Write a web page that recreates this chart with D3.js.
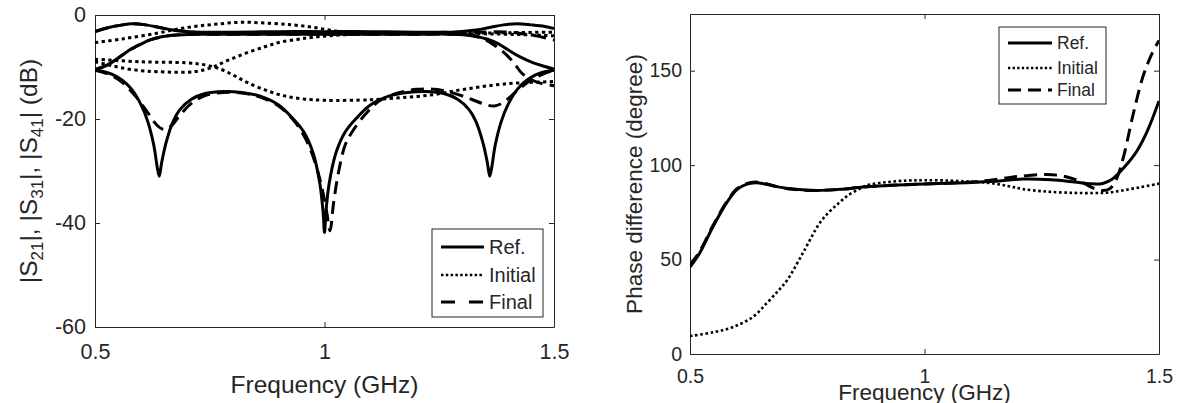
<!DOCTYPE html>
<html><head><meta charset="utf-8">
<script src="https://cdn.jsdelivr.net/npm/d3@7"></script>
<style>html,body{margin:0;padding:0;background:#fff;} svg{display:block;}</style>
</head><body>
<svg id="c" width="1185" height="403"></svg>
<script>
// ---------- DATA ----------
const freqTicks = [0.5, 1, 1.5];
const magTicks = [0, -20, -40, -60];
const phaseTicks = [0, 50, 100, 150];
const legendLabels = ["Ref.", "Initial", "Final"];

// Left panel: |S21|, |S31|, |S41| (dB) vs frequency (GHz)
const refS21 = [[0.5,-3.2],[0.53,-2.4],[0.56,-1.9],[0.58,-1.7],[0.61,-1.9],[0.64,-2.4],[0.67,-2.9],[0.72,-3.3],[0.8,-3.3],[0.9,-3.2],[1.0,-3.2],[1.1,-3.2],[1.2,-3.3],[1.28,-3.3],[1.33,-2.9],[1.36,-2.4],[1.39,-1.9],[1.42,-1.7],[1.45,-1.9],[1.48,-2.2],[1.5,-2.6]];
const refS31 = [[0.5,-10.5],[0.52,-9.9],[0.533,-9.3],[0.555,-8],[0.576,-6.7],[0.6,-5.6],[0.62,-4.8],[0.645,-4.2],[0.67,-3.9],[0.72,-3.7],[0.8,-3.7],[0.9,-3.7],[1.0,-3.7],[1.1,-3.7],[1.2,-3.7],[1.28,-3.7],[1.32,-4.0],[1.36,-4.8],[1.38,-5.6],[1.40,-6.7],[1.425,-8],[1.455,-9.2],[1.48,-9.9],[1.5,-10.4]];
const refS41 = [[0.5,-10.6],[0.52,-10.9],[0.54,-11.5],[0.56,-12.6],[0.58,-14.3],[0.6,-17.2],[0.615,-20.5],[0.628,-25],[0.636,-29.5],[0.64,-31],[0.645,-28.5],[0.655,-24.5],[0.67,-20.5],[0.685,-18.2],[0.71,-16.2],[0.74,-15.1],[0.78,-14.7],[0.82,-14.9],[0.86,-15.6],[0.9,-17.3],[0.93,-19.8],[0.955,-22.5],[0.975,-26.5],[0.99,-32.5],[0.997,-38],[1.0,-41.8],[1.003,-38],[1.01,-32.5],[1.025,-26.5],[1.045,-22.5],[1.07,-19.8],[1.1,-17.3],[1.14,-15.6],[1.18,-14.9],[1.22,-14.7],[1.26,-15.1],[1.29,-16.2],[1.315,-18.2],[1.33,-20.5],[1.345,-24.5],[1.355,-28.5],[1.36,-31],[1.364,-29.5],[1.372,-25],[1.385,-20.5],[1.4,-17.2],[1.42,-14.3],[1.44,-12.6],[1.46,-11.5],[1.48,-10.9],[1.5,-10.6]];

const iniS21 = [[0.5,-5.3],[0.56,-4.6],[0.635,-3.5],[0.7,-2.4],[0.76,-1.8],[0.82,-1.4],[0.88,-1.6],[0.93,-1.9],[0.97,-2.3],[1.01,-2.9],[1.05,-3.3],[1.15,-3.5],[1.3,-3.5],[1.4,-3.4],[1.5,-3.3]];
const iniS31 = [[0.5,-9.0],[0.53,-9.6],[0.56,-10.2],[0.6,-10.7],[0.635,-10.9],[0.7,-11],[0.73,-10.7],[0.757,-10],[0.79,-8.7],[0.83,-7.3],[0.87,-6.1],[0.9,-5.3],[0.94,-4.7],[0.973,-4.3],[1.045,-3.8],[1.15,-3.6],[1.3,-3.6],[1.4,-3.7],[1.5,-4.0]];
const iniS41 = [[0.5,-8.5],[0.6,-9],[0.7,-9.2],[0.74,-9.6],[0.77,-10.3],[0.8,-11.5],[0.83,-12.9],[0.87,-14.4],[0.91,-15.5],[0.95,-16.1],[1.0,-16.4],[1.1,-16.3],[1.15,-16.0],[1.23,-15.4],[1.31,-14.2],[1.4,-13.2],[1.5,-12.8]];

const finS21 = [[0.5,-3.2],[0.53,-2.4],[0.56,-1.9],[0.58,-1.7],[0.61,-1.9],[0.64,-2.4],[0.67,-2.9],[0.72,-3.3],[0.8,-3.4],[0.9,-3.4],[1.0,-3.4],[1.1,-3.4],[1.2,-3.4],[1.3,-3.3],[1.4,-3.3],[1.43,-3.6],[1.46,-4.0],[1.5,-4.8]];
const finS31 = [[0.5,-10.5],[0.52,-9.9],[0.533,-9.3],[0.555,-8],[0.576,-6.7],[0.6,-5.6],[0.62,-4.8],[0.645,-4.2],[0.67,-3.9],[0.72,-3.7],[0.8,-3.7],[0.9,-3.7],[1.0,-3.7],[1.1,-3.7],[1.2,-3.7],[1.28,-3.7],[1.32,-3.9],[1.345,-4.5],[1.37,-5.8],[1.397,-7.7],[1.415,-9.5],[1.43,-11.2],[1.45,-12.4],[1.47,-13.1],[1.5,-13.6]];
const finS41 = [[0.5,-10.6],[0.53,-11.4],[0.56,-13],[0.59,-15.8],[0.615,-18.8],[0.635,-21.2],[0.65,-22],[0.665,-21.4],[0.685,-19.3],[0.71,-17],[0.74,-15.5],[0.78,-14.9],[0.82,-15],[0.86,-15.8],[0.9,-17.5],[0.935,-20.5],[0.96,-24],[0.98,-28.5],[0.995,-33.5],[1.005,-38],[1.012,-41.5],[1.02,-36],[1.03,-30.5],[1.045,-25],[1.06,-22.5],[1.09,-19],[1.12,-16.5],[1.16,-15],[1.2,-14.3],[1.24,-14.3],[1.28,-15],[1.32,-16.2],[1.35,-17.2],[1.37,-17.5],[1.39,-16.8],[1.41,-15.3],[1.43,-13.8],[1.46,-12],[1.5,-10.6]];

// Right panel: phase difference (degree) vs frequency (GHz)
const refPhase = [[0.5,46],[0.521,53.6],[0.549,67.4],[0.578,80],[0.6,87],[0.62,89.8],[0.64,90.6],[0.66,90],[0.685,88.6],[0.72,87.3],[0.77,86.6],[0.82,87.2],[0.87,88.4],[0.93,89.3],[1.0,90],[1.07,90.5],[1.14,91.3],[1.21,92.6],[1.27,92.2],[1.32,91],[1.353,90.1],[1.38,90.3],[1.4,92.5],[1.417,96.5],[1.435,101.5],[1.453,107.5],[1.475,118],[1.5,134]];
const iniPhase = [[0.5,9.5],[0.55,11.5],[0.592,14.3],[0.634,19.6],[0.664,27],[0.69,34],[0.707,39],[0.741,53.6],[0.777,69.5],[0.8,76],[0.82,80.5],[0.84,84.5],[0.862,87.5],[0.877,89.3],[0.92,91],[0.963,91.8],[1.0,92],[1.054,91.8],[1.1,91.2],[1.14,90.5],[1.18,88.8],[1.21,87.3],[1.26,86],[1.317,85.3],[1.36,85.2],[1.389,85.4],[1.42,86.5],[1.46,88.3],[1.5,90.2]];
const finPhase = [[0.5,47],[0.521,54.5],[0.549,68],[0.578,80.5],[0.6,87.5],[0.62,90.2],[0.64,91],[0.66,90.3],[0.685,88.6],[0.72,87.2],[0.77,86.6],[0.82,87.2],[0.87,88.4],[0.93,89.3],[1.0,90],[1.07,90.6],[1.14,92],[1.2,94],[1.26,95],[1.3,94],[1.335,91],[1.36,87.8],[1.38,86.5],[1.395,87.5],[1.41,93],[1.425,105],[1.444,126],[1.466,147],[1.485,159],[1.5,166]];

// ---------- DRAW ----------
const svg = d3.select("#c");
const FONT = "'Liberation Sans', Arial, Helvetica, sans-serif";
const AX = "#262626";

function drawPanel(o) {
  const g = svg.append("g");
  const [x0, x1] = o.x.range(), [y0, y1] = o.y.range(); // y0 bottom, y1 top
  const cid = "clip" + o.id;
  svg.append("defs").append("clipPath").attr("id", cid)
    .append("rect").attr("x", x0).attr("y", y1).attr("width", x1 - x0).attr("height", y0 - y1);

  const styleAxis = (sel, fs) => {
    sel.attr("font-family", FONT).attr("font-size", fs);
    sel.select(".domain").attr("stroke", AX).attr("stroke-width", 1);
    sel.selectAll(".tick line").attr("stroke", AX);
    sel.selectAll(".tick text").attr("fill", AX);
  };
  g.append("g").attr("transform", `translate(0,${y0})`)
    .call(d3.axisBottom(o.x).tickValues(freqTicks).tickFormat(d => String(d)).tickSizeInner(-5).tickSizeOuter(0).tickPadding(o.xPad))
    .call(s => styleAxis(s, o.tickFs));
  g.append("g").attr("transform", `translate(0,${y1})`)
    .call(d3.axisTop(o.x).tickValues(freqTicks).tickFormat("").tickSizeInner(-5).tickSizeOuter(0))
    .call(s => styleAxis(s, o.tickFs));
  g.append("g").attr("transform", `translate(${x0},0)`)
    .call(d3.axisLeft(o.y).tickValues(o.yTicks).tickFormat(d => String(d)).tickSizeInner(-5).tickSizeOuter(0).tickPadding(o.yPad))
    .call(s => styleAxis(s, o.tickFs));
  g.append("g").attr("transform", `translate(${x1},0)`)
    .call(d3.axisRight(o.y).tickValues(o.yTicks).tickFormat("").tickSizeInner(-5).tickSizeOuter(0))
    .call(s => styleAxis(s, o.tickFs));

  const line = d3.line().x(d => o.x(d[0])).y(d => o.y(d[1])).curve(d3.curveCatmullRom.alpha(0.5));
  const cg = g.append("g").attr("clip-path", `url(#${cid})`);
  o.series.forEach(s => {
    cg.append("path").datum(s.data).attr("d", line)
      .attr("fill", "none").attr("stroke", "#000")
      .attr("stroke-width", s.w).attr("stroke-dasharray", s.dash || null)
      .attr("stroke-linejoin", "round");
  });

  // legend
  const L = o.legend;
  const lg = g.append("g");
  lg.append("rect").attr("x", L.x).attr("y", L.y).attr("width", L.w).attr("height", L.h)
    .attr("fill", "#fff").attr("stroke", AX).attr("stroke-width", 1);
  legendLabels.forEach((lab, i) => {
    const cy = L.rows[i];
    const st = L.styles[i];
    lg.append("line").attr("x1", L.lx0).attr("x2", L.lx1).attr("y1", cy).attr("y2", cy)
      .attr("stroke", "#000").attr("stroke-width", st.w).attr("stroke-dasharray", st.dash || null);
    lg.append("text").attr("x", L.tx).attr("y", cy).attr("dy", "0.36em")
      .attr("font-family", FONT).attr("font-size", L.fs).attr("fill", AX).text(lab);
  });

  // x label
  g.append("text").attr("x", (x0 + x1) / 2).attr("y", o.xlabY).attr("text-anchor", "middle")
    .attr("font-family", FONT).attr("font-size", o.labFs).attr("fill", AX).text("Frequency (GHz)");
  return g;
}

const xL = d3.scaleLinear().domain([0.5, 1.5]).range([95, 554]);
const yL = d3.scaleLinear().domain([-60, 0]).range([327, 15]);
const xR = d3.scaleLinear().domain([0.5, 1.5]).range([690, 1159]);
const yR = d3.scaleLinear().domain([0, 180]).range([354, 14]);

const DOT = "3.3,3.4", DASH = "13,7";

drawPanel({
  id: "L", x: xL, y: yL, yTicks: magTicks, tickFs: 21.5, xPad: 17, yPad: 9, labFs: 24.5, xlabY: 393,
  series: [
    {data: iniS21, w: 3, dash: DOT}, {data: iniS31, w: 3, dash: DOT}, {data: iniS41, w: 3, dash: DOT},
    {data: finS21, w: 3, dash: DASH}, {data: finS31, w: 3, dash: DASH}, {data: finS41, w: 3, dash: DASH},
    {data: refS21, w: 3}, {data: refS31, w: 3}, {data: refS41, w: 3}
  ],
  legend: {x: 432, y: 229, w: 111, h: 88, rows: [247, 275, 302], lx0: 441, lx1: 484, tx: 489, fs: 20,
    styles: [{w: 3}, {w: 2.5, dash: "2.5,2.3"}, {w: 3, dash: "14,14"}]}
});

drawPanel({
  id: "R", x: xR, y: yR, yTicks: phaseTicks, tickFs: 19.5, xPad: 15, yPad: 8, labFs: 22.5, xlabY: 400,
  series: [
    {data: iniPhase, w: 2.6, dash: "2.6,2.6"},
    {data: finPhase, w: 3, dash: DASH},
    {data: refPhase, w: 3}
  ],
  legend: {x: 999, y: 27, w: 107, h: 77, rows: [43, 68, 90], lx0: 1008, lx1: 1052, tx: 1057, fs: 17.5,
    styles: [{w: 3}, {w: 2.3, dash: "2.3,2.3"}, {w: 3, dash: DASH}]}
});

// y labels
const yl = svg.append("text").attr("transform", "translate(37,171) rotate(-90)")
  .attr("text-anchor", "middle").attr("font-family", FONT).attr("font-size", 24.5).attr("fill", AX);
[["|S",0],["21",1],["|, |S",-1],["31",1],["|, |S",-1],["41",1],["| (dB)",-1]].forEach(([t, k]) => {
  const ts = yl.append("tspan").text(t);
  if (k === 1) ts.attr("font-size", 17).attr("dy", 6);
  else if (k === -1) ts.attr("dy", -6);
});
svg.append("text").attr("transform", "translate(642,184) rotate(-90)")
  .attr("text-anchor", "middle").attr("font-family", FONT).attr("font-size", 22.5).attr("fill", AX)
  .text("Phase difference (degree)");
</script>
</body></html>
